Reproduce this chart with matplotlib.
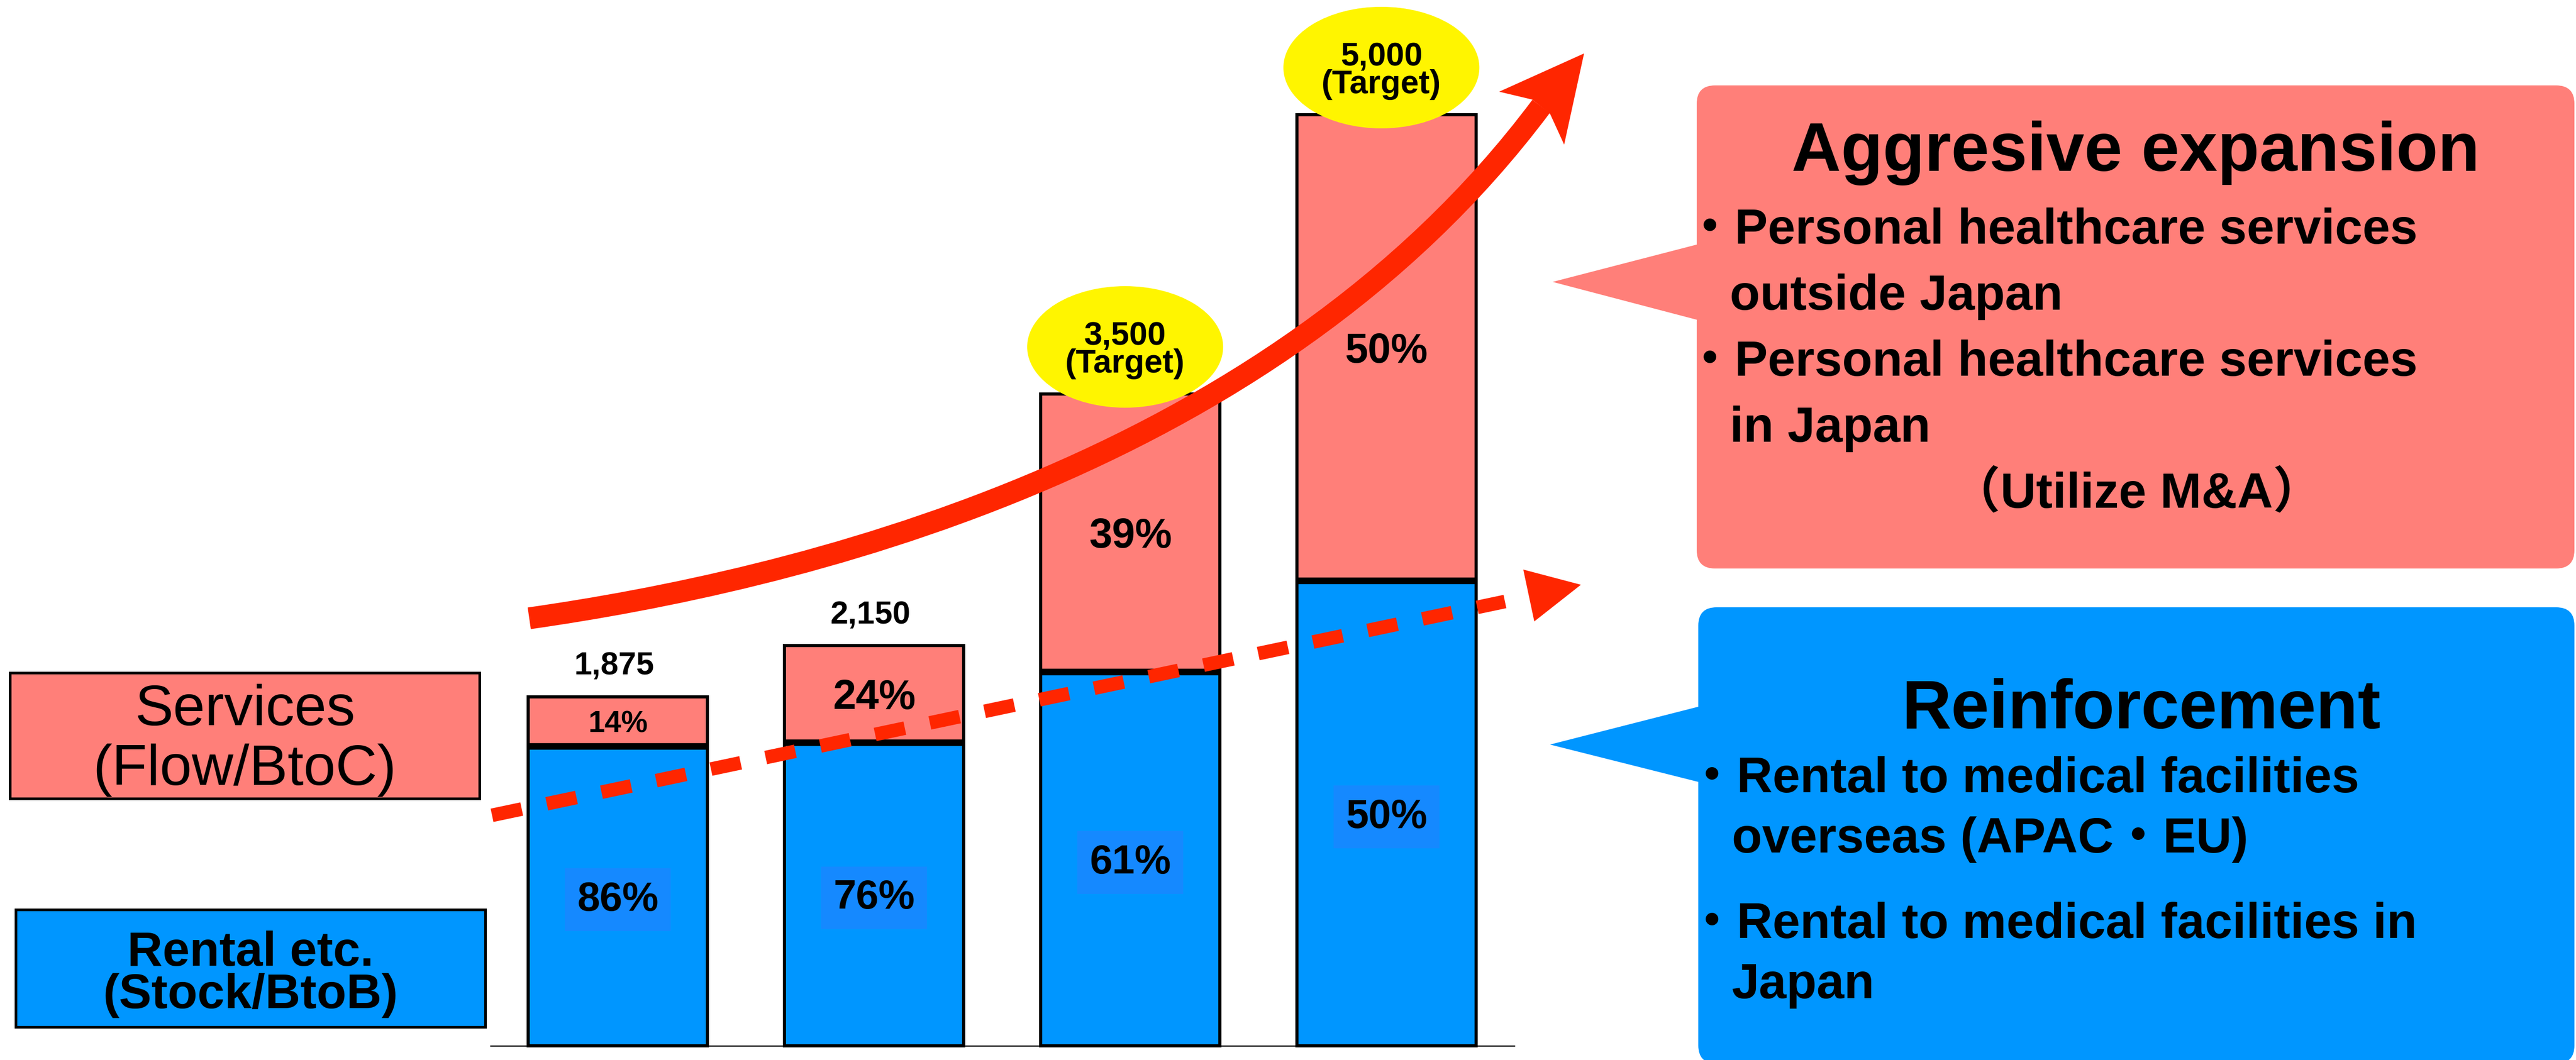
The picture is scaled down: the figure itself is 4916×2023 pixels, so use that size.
import numpy as np
import matplotlib.pyplot as plt
from matplotlib.patches import Rectangle, FancyBboxPatch, Polygon, Ellipse, PathPatch
from matplotlib.path import Path

plt.rcParams['font.family'] = ['Liberation Sans', 'Noto Sans CJK JP']

# chart values
totals = [1875, 2150, 3500, 5000]
total_labels = ['1,875', '2,150', '3,500', '5,000']
is_target = [False, False, True, True]
rental_share = [86, 76, 61, 50]
service_share = [14, 24, 39, 50]
# rental part as drawn in the picture (bar 3 split sits lower than 61%)
rental_drawn = [1610, 1630, 2010, 2500]

legend_services = ['Services', '(Flow/BtoC)']
legend_rental = ['Rental etc.', '(Stock/BtoB)']

expansion_title = 'Aggresive expansion'
expansion_lines = ['・Personal healthcare services', 'outside Japan',
                   '・Personal healthcare services', 'in Japan']
expansion_note = '（Utilize M&A）'
reinforce_title = 'Reinforcement'
reinforce_lines = ['・Rental to medical facilities', 'overseas (APAC・EU)',
                   '・Rental to medical facilities in', 'Japan']

BLUE = '#0096FF'
LABEL_BLUE = '#1589FF'
PINK = '#FF7F79'
RED = '#FF2600'
YELLOW = '#FFF500'

W_PX, H_PX = 4916, 2023
BASE_PX = 1996          # pixel row of the bar baseline
PX_PER_UNIT = 0.3554    # bar scale
X0_PX, STEP_PX = 1179, 489

fig = plt.figure(figsize=(W_PX / 100, H_PX / 100), dpi=100)

# bar axes: value scale mapped onto the whole canvas
ax = fig.add_axes([0, 0, 1, 1])
ax.set_xlim(-X0_PX / STEP_PX, (W_PX - X0_PX) / STEP_PX)
ax.set_ylim(-(H_PX - BASE_PX) / PX_PER_UNIT, BASE_PX / PX_PER_UNIT)
ax.axis('off')

x = np.arange(len(totals))
tot = np.array(totals, dtype=float)
rental = np.array(rental_drawn, dtype=float)
services = tot - rental
bw = 0.7

ax.hlines(0, -0.5, len(totals) - 0.5, color='#333333', lw=2, zorder=1)
ax.bar(x, rental, width=bw, color=BLUE, edgecolor='black', lw=4.3, zorder=2)
ax.bar(x, services, bottom=rental, width=bw, color=PINK, edgecolor='black', lw=4.3, zorder=2)
ax.hlines(rental, x - bw / 2, x + bw / 2, color='black', lw=9, zorder=3)

for i in range(len(totals)):
    # rental share label
    ax.annotate(f'{rental_share[i]}%', (x[i], rental[i] / 2), xytext=(0, -20),
                textcoords='offset points', ha='center', va='baseline',
                fontsize=56, fontweight='bold', zorder=4,
                bbox=dict(boxstyle='square,pad=0.3', fc=LABEL_BLUE, ec='none'))
    # services share label
    fs = 41 if service_share[i] < 20 else 57
    ax.annotate(f'{service_share[i]}%', (x[i], rental[i] + services[i] / 2),
                xytext=(0, -0.36 * fs), textcoords='offset points',
                ha='center', va='baseline', fontsize=fs, fontweight='bold', zorder=4)
    if is_target[i]:
        cy = totals[i] + 90 / PX_PER_UNIT
        ax.add_patch(Ellipse((x[i] - 0.02, cy), 374 / STEP_PX, 232 / PX_PER_UNIT,
                             fc=YELLOW, ec='none', zorder=5))
        ax.annotate(total_labels[i], (x[i] - 0.02, cy), xytext=(0, 3),
                    textcoords='offset points', ha='center', va='baseline',
                    fontsize=45, fontweight='bold', zorder=6)
        ax.annotate('(Target)', (x[i] - 0.02, cy), xytext=(0, -35),
                    textcoords='offset points', ha='center', va='baseline',
                    fontsize=45, fontweight='bold', zorder=6)
    else:
        ax.annotate(total_labels[i], (x[i], totals[i]), xytext=(-5, 30),
                    textcoords='offset points', ha='center', va='baseline',
                    fontsize=44, fontweight='bold', zorder=4)

# overlay in pixel coordinates for the diagram parts
ov = fig.add_axes([0, 0, 1, 1])
ov.set_xlim(0, W_PX)
ov.set_ylim(H_PX, 0)
ov.axis('off')
ov.patch.set_alpha(0)

# legend boxes on the left
ov.add_patch(Rectangle((19, 1284), 896, 240, fc=PINK, ec='black', lw=3.6))
ov.text(467, 1384, legend_services[0], ha='center', va='baseline', fontsize=79)
ov.text(467, 1498, legend_services[1], ha='center', va='baseline', fontsize=79)
ov.add_patch(Rectangle((30, 1736), 896, 224, fc=BLUE, ec='black', lw=3.6))
ov.text(478, 1843, legend_rental[0], ha='center', va='baseline', fontsize=67, fontweight='bold')
ov.text(478, 1924, legend_rental[1], ha='center', va='baseline', fontsize=67, fontweight='bold')

# solid growth arrow
curve = Path([(1010, 1180), (1500, 1110), (2420, 900), (2941, 203)],
             [Path.MOVETO, Path.CURVE4, Path.CURVE4, Path.CURVE4])
ov.add_patch(PathPatch(curve, fill=False, ec=RED, lw=30, capstyle='butt'))
ov.add_patch(Polygon([(3023, 102), (2861, 175), (2924, 190), (2958, 217), (2985, 276)],
                     closed=True, fc=RED, ec='none'))

# dashed arrow
ov.plot([939, 2872], [1556, 1148], color=RED, lw=18.7, dashes=(2.23, 1.88),
        dash_capstyle='butt')
ov.add_patch(Polygon([(3017, 1116), (2907, 1087), (2928, 1186)], closed=True,
                     fc=RED, ec='none'))

# callout: aggressive expansion
ov.add_patch(FancyBboxPatch((3238, 163), 4913 - 3238, 1085 - 163,
                            boxstyle='round,pad=0,rounding_size=35', fc=PINK, ec='none'))
ov.add_patch(Polygon([(2963, 538), (3245, 465), (3245, 612)], closed=True, fc=PINK, ec='none'))
ov.text(4076, 326, expansion_title, ha='center', va='baseline', fontsize=94, fontweight='bold')
for y, line in zip([465, 591, 717, 843], expansion_lines):
    xs = 3216 if line.startswith('・') else 3301
    ov.text(xs, y, line, ha='left', va='baseline', fontsize=68, fontweight='bold')
ov.text(4078, 969, expansion_note, ha='center', va='baseline', fontsize=68, fontweight='bold')

# callout: reinforcement
ov.add_patch(FancyBboxPatch((3241, 1159), 4913 - 3241, 2030 - 1159,
                            boxstyle='round,pad=0,rounding_size=35', fc=BLUE, ec='none'))
ov.add_patch(Polygon([(2958, 1421), (3248, 1347), (3248, 1494)], closed=True, fc=BLUE, ec='none'))
ov.text(4086, 1390, reinforce_title, ha='center', va='baseline', fontsize=94, fontweight='bold')
for y, line in zip([1512, 1627, 1790, 1905], reinforce_lines):
    xs = 3220 if line.startswith('・') else 3305
    ov.text(xs, y, line, ha='left', va='baseline', fontsize=68, fontweight='bold')

fig.savefig('out.png', dpi=100)
